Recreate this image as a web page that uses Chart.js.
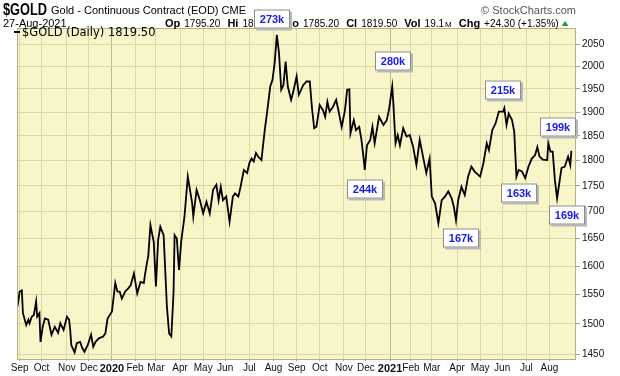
<!DOCTYPE html>
<html>
<head>
<meta charset="utf-8">
<script src="https://cdn.jsdelivr.net/npm/chart.js@4.4.1/dist/chart.umd.min.js"></script>
<style>
  html, body { margin: 0; padding: 0; background: #fff; }
  #wrap { width: 620px; height: 376px; position: relative; }
</style>
</head>
<body>
<div id="wrap"><canvas id="chart"></canvas></div>
<script>
// trading day index, counted from 3-Sep-2019
const tradingDay = [
  -2, 0, 2, 3, 6, 8, 9, 11, 13, 15, 16, 18, 19, 21, 23, 26, 29, 32, 35, 37,
  40, 43, 45, 46, 47, 50, 52, 55, 57, 59, 62, 65, 67, 69, 72, 76, 78, 80, 84, 87,
  89, 91, 93, 96, 99, 101, 104, 107, 110, 113, 114, 116, 117, 119, 122, 124, 126, 128, 131, 134,
  136, 138, 140, 141, 143, 145, 147, 150, 153, 157, 158, 161, 164, 167, 170, 173, 176, 179, 181, 183,
  185, 188, 191, 194, 196, 199, 201, 204, 207, 209, 211, 213, 215, 217, 220, 223, 225, 228, 230, 232,
  234, 236, 238, 240, 242, 244, 247, 249, 252, 254, 258, 261, 264, 266, 268, 270, 273, 276, 278, 280,
  282, 285, 288, 290, 293, 296, 298, 300, 301, 304, 306, 309, 311, 313, 314, 316, 319, 321, 323, 327,
  331, 334, 336, 339, 340, 342, 344, 346, 349, 352, 355, 358, 361, 364, 367, 370, 373, 375, 378, 381,
  384, 387, 390, 393, 395, 397, 399, 402, 405, 408, 411, 414, 419, 422, 425, 427, 430, 433, 436, 440,
  441, 443, 445, 448, 450, 452, 454, 457, 460, 463, 466, 469, 471, 473, 476, 480, 481, 483, 485, 487,
  489, 491, 493, 496, 499, 501, 502
];
const closes = [
  1529, 1555, 1557, 1518, 1498, 1507, 1501, 1512, 1515, 1538, 1512, 1518, 1470, 1495, 1509, 1507, 1482, 1495, 1485, 1501,
  1490, 1512, 1507, 1490, 1465, 1453, 1468, 1470, 1460, 1454, 1465, 1482, 1462, 1470, 1476, 1479, 1484, 1509, 1521, 1570,
  1555, 1555, 1543, 1555, 1561, 1566, 1587, 1552, 1572, 1570, 1584, 1608, 1617, 1675, 1644, 1564, 1647, 1672, 1656, 1529,
  1484, 1479, 1552, 1656, 1650, 1593, 1644, 1691, 1768, 1716, 1691, 1742, 1722, 1697, 1719, 1697, 1742, 1752, 1722, 1748,
  1722, 1729, 1681, 1729, 1735, 1729, 1748, 1781, 1775, 1795, 1804, 1798, 1815, 1808, 1801, 1862, 1897, 1955, 1969, 2006,
  2071, 2029, 1948, 1958, 2010, 1955, 1926, 1944, 1977, 1937, 1958, 1966, 1966, 1908, 1866, 1869, 1915, 1904, 1890, 1922,
  1901, 1911, 1926, 1904, 1869, 1904, 1948, 1949, 1855, 1883, 1862, 1869, 1842, 1804, 1781, 1831, 1842, 1869, 1835, 1890,
  1873, 1883, 1904, 1955, 1919, 1835, 1852, 1831, 1866, 1849, 1852, 1828, 1791, 1842, 1808, 1775, 1804, 1729, 1716, 1678,
  1722, 1729, 1739, 1726, 1710, 1684, 1722, 1748, 1732, 1768, 1788, 1778, 1768, 1795, 1835, 1821, 1862, 1876, 1901, 1901,
  1908, 1873, 1897, 1883, 1859, 1768, 1781, 1778, 1765, 1788, 1804, 1811, 1827, 1808, 1802, 1801, 1835, 1818, 1818, 1761,
  1726, 1755, 1785, 1788, 1808, 1791, 1819.5
];
const monthTickDays = [0, 20, 43, 63, 84, 105, 124, 146, 167, 187, 209, 231, 252, 273, 295, 315, 337, 356, 375, 398, 419, 439, 461, 482];
const monthTickLabels = ['Sep', 'Oct', 'Nov', 'Dec', '2020', 'Feb', 'Mar', 'Apr', 'May', 'Jun', 'Jul', 'Aug',
  'Sep', 'Oct', 'Nov', 'Dec', '2021', 'Feb', 'Mar', 'Apr', 'May', 'Jun', 'Jul', 'Aug'];
const priceTicks = [1450, 1500, 1550, 1600, 1650, 1700, 1750, 1800, 1850, 1900, 1950, 2000, 2050];

// quote line: label / value pairs
const quoteLabels = ['Op', 'Hi', 'Lo', 'Cl', 'Vol', 'Chg'];
const quoteValues = ['1795.20', '1823.90', '1785.20', '1819.50', '19.1', '+24.30 (+1.35%)'];

// volume call-outs
const noteLabels = ['273k', '280k', '244k', '167k', '163k', '215k', '199k', '169k'];
const noteDays = [230, 340, 314, 402, 454, 440, 490, 498];
const notePrices = [2108, 2012, 1744, 1651, 1736, 1948, 1869, 1694];

const BG = '#f8f6c9';
const GRID = '#dad8a6';
const YEAR_GRID = '#bdbb88';

const isYear = (lbl) => /^\d{4}$/.test(lbl);

const chartDecor = {
    id: 'chartDecor',
    beforeDraw(chart) {
        const { ctx, chartArea: a } = chart;
        ctx.save();
        ctx.fillStyle = BG;
        ctx.fillRect(a.left, a.top, a.right - a.left, a.bottom - a.top);
        ctx.restore();
    },
    afterDatasetsDraw(chart) {
        const { ctx, chartArea: a } = chart;
        ctx.save();
        ctx.strokeStyle = '#b3b18c';
        ctx.lineWidth = 1;
        ctx.strokeRect(a.left + 0.5, a.top + 0.5, a.right - a.left - 1, a.bottom - a.top);

        // legend inside the plot
        ctx.strokeStyle = '#000';
        ctx.lineWidth = 2;
        ctx.beginPath();
        ctx.moveTo(14, 32);
        ctx.lineTo(20, 32);
        ctx.stroke();
        ctx.fillStyle = '#000';
        ctx.font = '11.5px "DejaVu Sans"';
        ctx.textBaseline = 'alphabetic';
        ctx.fillText('$GOLD (Daily) 1819.50', 22, 36);
        ctx.restore();
    },
    afterDraw(chart) {
        const { ctx } = chart;
        ctx.save();
        ctx.fillStyle = '#000';
        ctx.textBaseline = 'alphabetic';

        // title line
        ctx.save();
        ctx.translate(3, 15);
        ctx.scale(0.8, 1);
        ctx.font = 'bold 16px Arial';
        ctx.fillText('$GOLD', 0, 0);
        ctx.restore();
        ctx.font = '11px Arial';
        ctx.fillText('Gold - Continuous Contract (EOD) CME', 51, 14);
        ctx.textAlign = 'right';
        ctx.fillStyle = '#555';
        ctx.fillText('\u00A9 StockCharts.com', 576, 14);

        // quote line
        ctx.textAlign = 'left';
        ctx.fillStyle = '#000';
        ctx.fillText('27-Aug-2021', 3, 27);
        let x = 165;
        quoteLabels.forEach((lbl, i) => {
            ctx.font = 'bold 11px Arial';
            ctx.fillText(lbl, x, 27);
            x += ctx.measureText(lbl).width + 4;
            ctx.font = '10px Arial';
            ctx.fillText(quoteValues[i], x, 27);
            x += ctx.measureText(quoteValues[i]).width;
            if (lbl === 'Vol') {
                ctx.font = '8px Arial';
                ctx.fillText('M', x + 1, 27);
                x += ctx.measureText('M').width + 1;
            }
            x += 7;
        });
        // up arrow
        ctx.fillStyle = '#2a9a2a';
        ctx.beginPath();
        ctx.moveTo(x - 4, 26);
        ctx.lineTo(x + 3, 26);
        ctx.lineTo(x - 0.5, 21);
        ctx.closePath();
        ctx.fill();

        // volume boxes
        const xs = chart.scales.x, ys = chart.scales.y;
        ctx.font = 'bold 11px Arial';
        ctx.textAlign = 'center';
        ctx.textBaseline = 'middle';
        noteLabels.forEach((lbl, i) => {
            const cx = Math.round(xs.getPixelForValue(noteDays[i]));
            const cy = Math.round(ys.getPixelForValue(notePrices[i]));
            const w = 36, h = 19;
            const l = cx - w / 2, t = cy - h / 2;
            ctx.fillStyle = '#b8b8b8';
            ctx.fillRect(l + 2, t + 2, w, h);
            ctx.fillStyle = '#fff';
            ctx.fillRect(l, t, w, h);
            ctx.strokeStyle = '#8c8c8c';
            ctx.lineWidth = 1;
            ctx.strokeRect(l + 0.5, t + 0.5, w - 1, h - 1);
            ctx.fillStyle = '#1a1ae6';
            ctx.fillText(lbl, cx, cy + 1);
        });
        ctx.restore();
    }
};

const ctx = document.getElementById('chart').getContext('2d');
new Chart(ctx, {
    type: 'line',
    data: {
        datasets: [{
            label: '$GOLD (Daily)',
            data: tradingDay.map((d, i) => ({ x: d, y: closes[i] })),
            borderColor: '#000',
            borderWidth: 1.8,
            pointRadius: 0,
            tension: 0,
            fill: false
        }]
    },
    options: {
        responsive: true,
        maintainAspectRatio: false,
        animation: false,
        devicePixelRatio: 1,
        layout: { padding: { left: 17, top: 28, right: 0, bottom: 0 } },
        plugins: { legend: { display: false }, tooltip: { enabled: false } },
        scales: {
            x: {
                type: 'linear',
                bounds: 'data',
                min: -2.4,
                max: 506.2,
                afterBuildTicks: (s) => { s.ticks = monthTickDays.map(v => ({ value: v })); },
                afterFit: (s) => { s.height = 17; },
                grid: {
                    color: (c) => (c.tick && isYear(monthTickLabels[monthTickDays.indexOf(c.tick.value)])) ? YEAR_GRID : GRID,
                    tickColor: '#a9a785',
                    tickLength: 2,
                    drawTicks: true
                },
                border: { display: false },
                ticks: {
                    autoSkip: false,
                    maxRotation: 0,
                    padding: 1,
                    color: '#111',
                    font: (c) => isYear(monthTickLabels[c.index]) ?
                        { family: 'Arial', size: 11, weight: 'bold' } :
                        { family: 'Arial', size: 10 },
                    callback: (v, i) => monthTickLabels[i]
                }
            },
            y: {
                type: 'logarithmic',
                position: 'right',
                bounds: 'data',
                min: 1442.3,
                max: 2087,
                afterBuildTicks: (s) => { s.ticks = priceTicks.map(v => ({ value: v })); },
                afterFit: (s) => { s.width = 44; },
                grid: {
                    color: GRID,
                    tickColor: '#a9a785',
                    tickLength: 4,
                    drawTicks: true
                },
                border: { display: false },
                ticks: {
                    autoSkip: false,
                    padding: 2,
                    color: '#111',
                    font: { family: 'Arial', size: 10 },
                    callback: (v) => String(v)
                }
            }
        }
    },
    plugins: [chartDecor]
});
</script>
</body>
</html>
